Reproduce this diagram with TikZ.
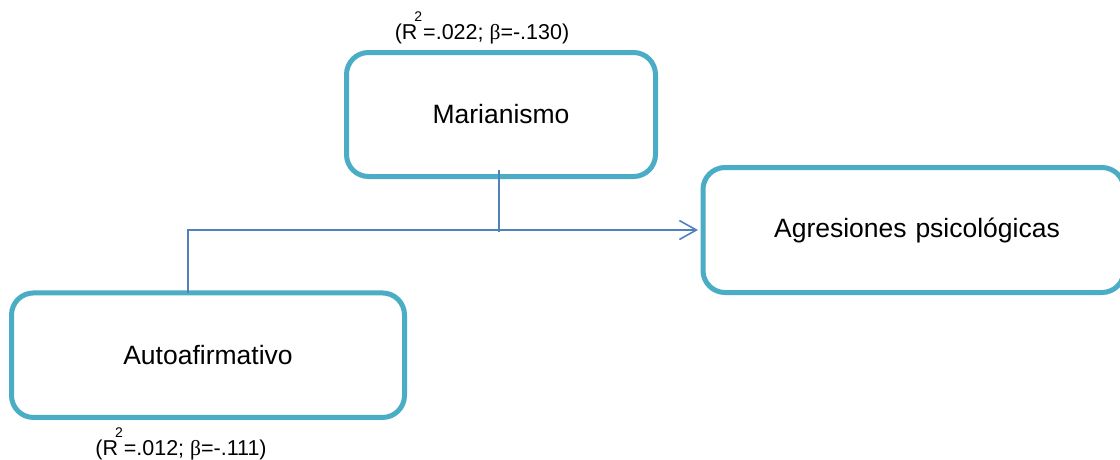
\documentclass[tikz,border=0pt]{standalone}
\usepackage{fontspec}
\setmainfont{Liberation Sans}
\newfontfamily\grk{Liberation Serif}
\usetikzlibrary{arrows.meta}
\definecolor{boxc}{HTML}{4BACC6}
\definecolor{linec}{HTML}{4F81BD}
\newcommand{\rsq}{R\kern-3pt\raisebox{17.5pt}{\fontsize{14}{14}\selectfont 2}\kern1pt}
\begin{document}
\begin{tikzpicture}[x=1pt,y=-1pt,
  vbox/.style={draw=boxc,line width=5pt,rounded corners=22pt,outer sep=0pt,inner sep=0pt,
    font=\fontsize{26.5}{30}\selectfont,text=black},
  lab/.style={font=\fontsize{21.5}{24}\selectfont,inner sep=0pt,anchor=base},
  conn/.style={draw=linec,line width=1.6pt}]
\useasboundingbox (0,0) rectangle (1120,459);
\begin{scope}
\clip (0,0) rectangle (1120,459);
\node[vbox,minimum width=309pt,minimum height=124pt] (m) at (501,114.5) {Marianismo};
\node[vbox,minimum width=421pt,minimum height=125pt,text width=415pt,align=center] (g) at (913.5,230) {\hspace*{7pt}Agresiones psicológicas};
\node[vbox,minimum width=393pt,minimum height=124.5pt] (a) at (208,355.2) {Autoafirmativo};
\end{scope}
\node[lab] (lm) at (482,39) {(\rsq=.022; {\grk β}=-.130)};
\node[lab] (la) at (181,455) {(\rsq=.012; {\grk β}=-.111)};
\coordinate (ac) at ([xshift=-20pt]a.north);
\coordinate (mv) at ([xshift=-2pt,yshift=6.5pt]m.south);
\draw[conn,-{Straight Barb[length=17pt,width=19pt,line width=1.6pt]},shorten >=5pt] (ac) |- (g.west);
\draw[conn] (mv) -- ([yshift=-2pt]mv |- g.west);
\end{tikzpicture}
\end{document}
